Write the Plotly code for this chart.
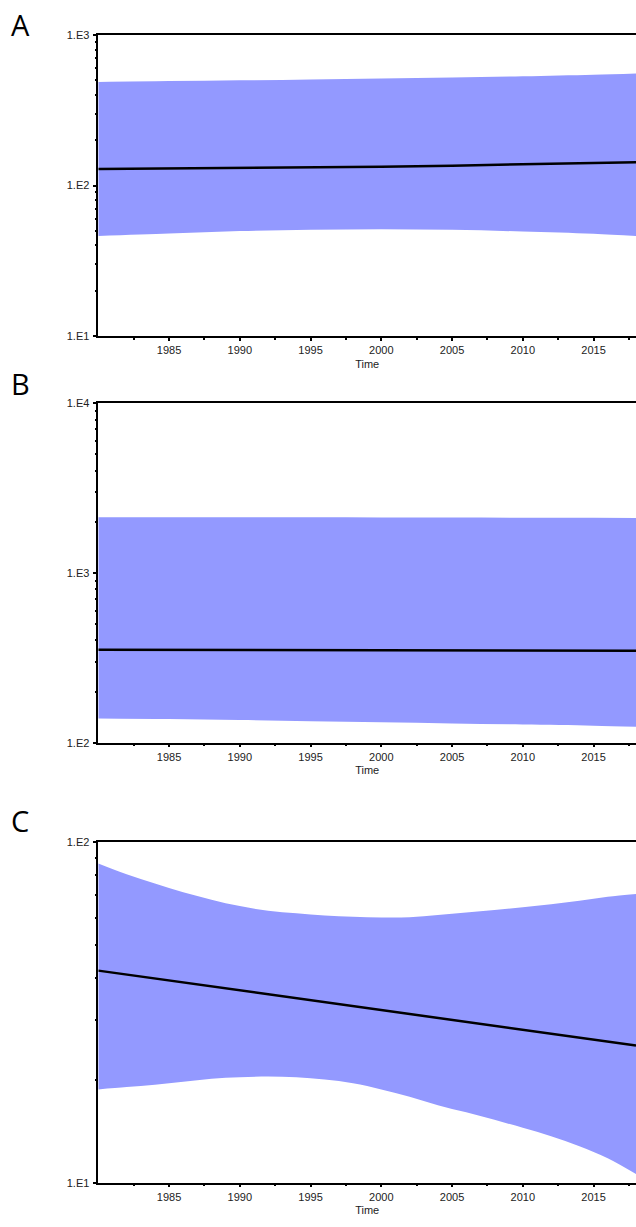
import plotly.graph_objects as go

# ---------------- data ----------------
years_A = [1980, 1985, 1990, 1995, 2000, 2005, 2010, 2015, 2018]
A_upper = [488, 494, 500, 507, 515, 522, 532, 545, 556]
A_median = [128.6, 129.5, 130.5, 132.0, 133.5, 135.5, 138.0, 141.0, 143.0]
A_lower = [46.2, 48.0, 49.8, 50.8, 51.3, 50.8, 49.5, 47.8, 46.2]

years_B = [1980, 1985, 1990, 1995, 2000, 2005, 2010, 2015, 2018]
B_upper = [2130, 2130, 2128, 2125, 2120, 2118, 2115, 2110, 2105]
B_median = [353, 352, 351, 350, 349, 348, 348, 348, 348]
B_lower = [139, 138, 136, 134, 132, 130, 128, 126, 124]

years_C = [1980, 1982, 1984, 1986, 1988, 1990, 1992, 1994, 1996, 1998,
           2000, 2002, 2004, 2006, 2008, 2010, 2012, 2014, 2016, 2018]
C_upper = [86.7, 80.6, 75.8, 71.4, 67.9, 65.0, 63.0, 61.9, 61.0, 60.5,
           60.2, 60.3, 61.2, 62.2, 63.3, 64.5, 65.8, 67.4, 69.3, 70.6]
C_lower = [18.8, 19.1, 19.4, 19.8, 20.2, 20.4, 20.5, 20.4, 20.1, 19.6,
           18.8, 17.9, 16.9, 16.1, 15.3, 14.5, 13.7, 12.8, 11.8, 10.6]
years_C_med = [1980, 1985, 1990, 1995, 2000, 2005, 2010, 2015, 2018]
C_median = [42.0, 39.3, 36.7, 34.3, 32.2, 30.1, 28.2, 26.4, 25.3]

panel_labels = ["A", "B", "C"]
x_range = [1980, 2018]
x_major = [1985, 1990, 1995, 2000, 2005, 2010, 2015]
x_minor = [1982.5, 1987.5, 1992.5, 1997.5, 2002.5, 2007.5, 2012.5, 2017.5]
y_decades = [[10, 100, 1000], [100, 1000, 10000], [10, 100]]
y_decade_text = [["1.E1", "1.E2", "1.E3"], ["1.E2", "1.E3", "1.E4"], ["1.E1", "1.E2"]]
x_title = "Time"

# ---------------- styling ----------------
FILL = "rgb(147,153,255)"
FONT = "Liberation Sans, Arial, Helvetica, sans-serif"
W, H = 636, 1227

# pixel boxes (top, bottom) of the three panels
boxes = [(29.3, 333.3), (401.0, 744.0), (844.7, 1188.3)]
x_left_px = 98.3

fig = go.Figure()

panels = [
    (years_A, A_upper, A_lower, years_A, A_median),
    (years_B, B_upper, B_lower, years_B, B_median),
    (years_C, C_upper, C_lower, years_C_med, C_median),
]

for i, (yrs, up, lo, yrs_m, med) in enumerate(panels):
    xa = "x" if i == 0 else f"x{i+1}"
    ya = "y" if i == 0 else f"y{i+1}"
    fig.add_trace(go.Scatter(x=yrs, y=up, xaxis=xa, yaxis=ya, mode="lines",
                             line=dict(width=0, color=FILL, shape="spline"),
                             showlegend=False, hoverinfo="skip"))
    fig.add_trace(go.Scatter(x=yrs, y=lo, xaxis=xa, yaxis=ya, mode="lines",
                             line=dict(width=0, color=FILL, shape="spline"),
                             fill="tonexty", fillcolor=FILL, showlegend=False,
                             hoverinfo="skip"))
    fig.add_trace(go.Scatter(x=yrs_m, y=med, xaxis=xa, yaxis=ya, mode="lines",
                             line=dict(width=2.5, color="black"),
                             showlegend=False))

layout = dict(
    width=W, height=H,
    margin=dict(l=0, r=0, t=0, b=0),
    paper_bgcolor="white", plot_bgcolor="white",
    font=dict(family=FONT, size=11, color="#222"),
)

for i in range(3):
    top, bot = boxes[i]
    dom = [1 - bot / H, 1 - top / H]
    xk = "xaxis" if i == 0 else f"xaxis{i+1}"
    yk = "yaxis" if i == 0 else f"yaxis{i+1}"
    ya = "y" if i == 0 else f"y{i+1}"
    xa = "x" if i == 0 else f"x{i+1}"
    decs = y_decades[i]
    minor_vals = []
    for d in decs[:-1]:
        minor_vals += [d * k for k in range(2, 10)]
    layout[xk] = dict(
        domain=[x_left_px / W, 1.0], anchor=ya, range=x_range,
        showline=True, linecolor="black", linewidth=1.5, mirror=True,
        showgrid=False, zeroline=False,
        tickmode="array", tickvals=x_major,
        ticktext=[str(v) for v in x_major],
        ticks="outside", ticklen=3, tickwidth=2, tickcolor="black",
        minor=dict(tickmode="array", tickvals=x_minor, ticks="outside",
                   ticklen=2, tickwidth=2, tickcolor="black", showgrid=False),
        tickfont=dict(family=FONT, size=11, color="#222"),
        title=dict(text=x_title, font=dict(family=FONT, size=11, color="#222"),
                   standoff=5),
        fixedrange=True,
    )
    layout[yk] = dict(
        domain=dom, anchor=xa, type="log",
        range=[len(str(decs[0])) - 1, len(str(decs[-1])) - 1],
        showline=True, linecolor="black", linewidth=1.5, mirror=False,
        showgrid=False, zeroline=False,
        tickmode="array", tickvals=decs, ticktext=y_decade_text[i],
        ticks="outside", ticklen=4, tickwidth=2, tickcolor="black",
        minor=dict(tickmode="array", tickvals=minor_vals, ticks="outside",
                   ticklen=2, tickwidth=2, tickcolor="black", showgrid=False),
        tickfont=dict(family=FONT, size=11, color="#222"),
        ticklabelstandoff=1,
        fixedrange=True,
    )

label_y_px = [19.0, 381.0, 823.0]
layout["annotations"] = [
    dict(text=panel_labels[i], xref="paper", yref="paper",
         x=9 / W, y=1 - label_y_px[i] / H, xanchor="left", yanchor="middle",
         showarrow=False,
         font=dict(family="Open Sans, Noto Sans, sans-serif", size=29, color="black"))
    for i in range(3)
]

fig.update_layout(**layout)

post = (
    "var gd=document.getElementById('{plot_id}');"
    "gd.style.position='fixed';gd.style.top='0px';gd.style.left='0px';"
    "document.body.style.margin='0';document.body.style.overflow='hidden';"
    "document.documentElement.style.overflow='hidden';"
)
fig.write_html("out.html", config={"displayModeBar": False}, post_script=post)
